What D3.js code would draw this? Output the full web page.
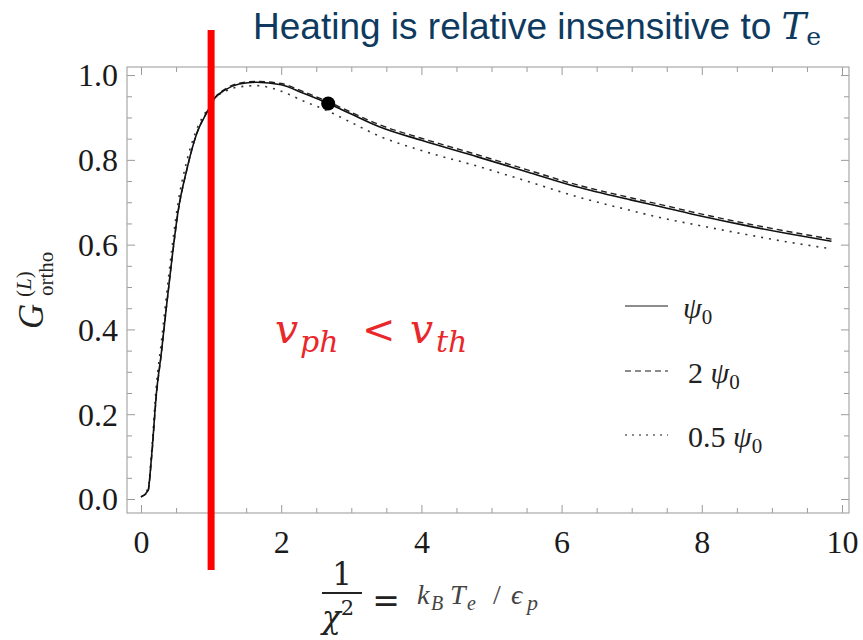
<!DOCTYPE html>
<html>
<head>
<meta charset="utf-8">
<script src="https://cdn.jsdelivr.net/npm/d3@7"></script>
<style>
  body { margin: 0; background: #fff; }
  svg { display: block; }
  .tick line { stroke: #9a9a9a; }
</style>
</head>
<body>
<svg id="vis" width="863" height="640"></svg>
<script>
// values
var xVals   = [0, 0.1, 0.15, 0.22, 0.29, 0.36, 0.44, 0.53, 0.65, 0.79, 0.95, 1.05, 1.2, 1.4, 1.65, 2.0, 2.3, 2.67, 3.0, 3.4, 4.0, 4.8, 5.5, 6.2, 7.0, 7.4, 8.0, 8.6, 9.2, 9.85];
var gPsi0   = [0.005, 0.02, 0.10, 0.25, 0.345, 0.45, 0.565, 0.68, 0.775, 0.86, 0.915, 0.945, 0.965, 0.979, 0.983, 0.977, 0.958, 0.933, 0.908, 0.878, 0.846, 0.807, 0.772, 0.737, 0.705, 0.69, 0.667, 0.646, 0.627, 0.608];
var gPsi2   = [0.005, 0.018, 0.095, 0.245, 0.342, 0.448, 0.563, 0.678, 0.774, 0.86, 0.916, 0.946, 0.967, 0.981, 0.985, 0.98, 0.962, 0.937, 0.912, 0.883, 0.851, 0.812, 0.777, 0.742, 0.71, 0.695, 0.672, 0.651, 0.632, 0.613];
var gPsiHalf = [0.005, 0.025, 0.11, 0.27, 0.37, 0.475, 0.59, 0.70, 0.795, 0.87, 0.92, 0.945, 0.962, 0.972, 0.975, 0.962, 0.94, 0.915, 0.888, 0.856, 0.822, 0.785, 0.75, 0.714, 0.68, 0.664, 0.644, 0.625, 0.607, 0.59];
var legendPrefix = ["", "2 ", "0.5 "];
var xTicks = [0, 2, 4, 6, 8, 10];
var yTicks = [0.0, 0.2, 0.4, 0.6, 0.8, 1.0];
var markX = 2.67, markY = 0.933;   // black dot
var thresholdX = 1;                // red line (v_ph = v_th)

var serif = "'Liberation Serif', 'Times New Roman', serif";
var svg = d3.select("#vis");

var x = d3.scaleLinear().domain([-0.2, 10.1]).range([127, 849]);
var y = d3.scaleLinear().domain([-0.033, 1.019]).range([513, 67]);

var minorX = d3.range(0, 10.01, 0.5).filter(v => xTicks.indexOf(v) < 0);
var minorY = d3.range(0, 1.001, 0.05).map(v => Math.round(v * 100) / 100).filter(v => yTicks.indexOf(v) < 0);

/*
 * FRAME + TICKS (mathematica style, ticks inward)
 */
function addAxis(axis, tx, ty) {
  var g = svg.append("g")
    .attr("transform", "translate(" + tx + "," + ty + ")")
    .call(axis)
    .attr("font-family", serif)
    .attr("font-size", 32);
  g.select(".domain").remove();
  g.selectAll("text").attr("fill", "#1a1a1a");
  return g;
}

var bottom = addAxis(d3.axisBottom(x).tickValues(xTicks).tickSize(-8).tickFormat(d3.format("d")), 0, 513);
bottom.selectAll("text").attr("dy", null).attr("y", 40);
addAxis(d3.axisBottom(x).tickValues(minorX).tickSize(-5).tickFormat(""), 0, 513);
addAxis(d3.axisTop(x).tickValues(xTicks).tickSize(-8).tickFormat(""), 0, 67);
addAxis(d3.axisTop(x).tickValues(minorX).tickSize(-5).tickFormat(""), 0, 67);

var left = addAxis(d3.axisLeft(y).tickValues(yTicks).tickSize(-8).tickFormat(d3.format(".1f")), 127, 0);
left.selectAll("text").attr("x", -9).attr("dy", "0.34em");
addAxis(d3.axisLeft(y).tickValues(minorY).tickSize(-5).tickFormat(""), 127, 0);
addAxis(d3.axisRight(y).tickValues(yTicks).tickSize(-8).tickFormat(""), 849, 0);
addAxis(d3.axisRight(y).tickValues(minorY).tickSize(-5).tickFormat(""), 849, 0);

svg.append("rect")
  .attr("x", 127).attr("y", 67)
  .attr("width", 849 - 127).attr("height", 513 - 67)
  .attr("fill", "none")
  .attr("stroke", "#a8a8a8")
  .attr("stroke-width", 1.2);

/*
 * CURVES
 */
var line = d3.line()
  .x(d => x(d[0]))
  .y(d => y(d[1]))
  .curve(d3.curveMonotoneX);

var series = [
  {vals: gPsiHalf, dash: "2,6", width: 1.6, color: "#333"},
  {vals: gPsi2, dash: "6,4", width: 1.4, color: "#222"},
  {vals: gPsi0, dash: null, width: 1.6, color: "#111"}
];

svg.append("g").selectAll("path")
  .data(series)
  .enter().append("path")
    .attr("d", s => line(xVals.map((v, i) => [v, s.vals[i]])))
    .attr("fill", "none")
    .attr("stroke", s => s.color)
    .attr("stroke-width", s => s.width)
    .attr("stroke-dasharray", s => s.dash);

svg.append("circle")
  .attr("cx", x(markX)).attr("cy", y(markY))
  .attr("r", 7)
  .attr("fill", "#000");

/*
 * LEGEND
 */
var legendDash = [null, "6,4", "2,5"];
var legendRowY = [306, 371, 435];
var lg = svg.append("g");
legendPrefix.forEach(function(p, i) {
  lg.append("line")
    .attr("x1", 625).attr("x2", 668)
    .attr("y1", legendRowY[i]).attr("y2", legendRowY[i])
    .attr("stroke", "#666")
    .attr("stroke-width", 1.5)
    .attr("stroke-dasharray", legendDash[i]);
  var t = lg.append("text")
    .attr("x", i === 0 ? 683 : 688)
    .attr("y", legendRowY[i] + 12)
    .attr("font-family", serif)
    .attr("font-size", 30)
    .attr("fill", "#222");
  if (p) t.append("tspan").text(p);
  t.append("tspan").attr("font-style", "italic").text("ψ");
  t.append("tspan").attr("font-size", 21).attr("dy", 6).text("0");
});

/*
 * Y LABEL
 */
var yl = svg.append("g")
  .attr("transform", "translate(43,290) rotate(-90)")
  .attr("font-family", serif)
  .attr("fill", "#222");
yl.append("text").attr("x", -39).attr("y", 0).attr("font-size", 35).attr("font-style", "italic").text("G");
var sup = yl.append("text").attr("x", -7).attr("y", -12).attr("font-size", 21);
sup.append("tspan").text("(");
sup.append("tspan").attr("font-style", "italic").text("L");
sup.append("tspan").text(")");
yl.append("text").attr("x", -6).attr("y", 10).attr("font-size", 21).text("ortho");

/*
 * X LABEL
 */
var xl = svg.append("g").attr("font-family", "'DejaVu Serif', serif").attr("fill", "#222");
xl.append("text").attr("x", 342).attr("y", 585).attr("text-anchor", "middle").attr("font-size", 31).text("1");
xl.append("line").attr("x1", 322).attr("x2", 362).attr("y1", 593).attr("y2", 593).attr("stroke", "#222").attr("stroke-width", 2);
var chi = xl.append("text").attr("x", 322).attr("y", 628).attr("font-size", 31);
chi.append("tspan").attr("font-style", "italic").text("χ");
chi.append("tspan").attr("font-size", 21).attr("dy", -13).text("2");
xl.append("text").attr("x", 386).attr("y", 612).attr("text-anchor", "middle").attr("font-size", 33).text("=");

var kt = svg.append("text")
  .attr("font-family", serif)
  .attr("font-style", "italic")
  .attr("font-size", 28)
  .attr("fill", "#444")
  .attr("y", 604);
kt.append("tspan").attr("x", 417).text("k");
kt.append("tspan").attr("x", 431).attr("dy", 6).attr("font-size", 20).text("B");
kt.append("tspan").attr("x", 450).attr("dy", -6).text("T");
kt.append("tspan").attr("x", 467).attr("dy", 6).attr("font-size", 20).text("e");
kt.append("tspan").attr("x", 493).attr("dy", -6).attr("font-style", "normal").text("/");
kt.append("tspan").attr("x", 511).text("ϵ");
kt.append("tspan").attr("x", 527).attr("dy", 6).attr("font-size", 22).text("p");

/*
 * ANNOTATIONS
 */
svg.append("line")
  .attr("x1", x(thresholdX)).attr("x2", x(thresholdX))
  .attr("y1", 30).attr("y2", 570)
  .attr("stroke", "#ff0000")
  .attr("stroke-width", 7);

var red = svg.append("text")
  .attr("font-family", "'DejaVu Serif', serif")
  .attr("font-style", "italic")
  .attr("fill", "#e8282b")
  .attr("y", 343);
red.append("tspan").attr("x", 275).attr("font-size", 41).text("v");
red.append("tspan").attr("x", 300).attr("dy", 9).attr("font-size", 30).text("ph");
red.append("tspan").attr("x", 362).attr("dy", -9).attr("font-size", 40).attr("font-style", "normal").text("<");
red.append("tspan").attr("x", 410).attr("font-size", 41).text("v");
red.append("tspan").attr("x", 436).attr("dy", 9).attr("font-size", 30).text("th");

var title = svg.append("text")
  .attr("x", 253).attr("y", 39)
  .attr("font-family", "'Liberation Sans', Arial, sans-serif")
  .attr("font-size", 37)
  .attr("fill", "#0e3a60");
title.append("tspan").text("Heating is relative insensitive to ");
title.append("tspan").attr("font-family", "'DejaVu Serif', serif").attr("font-style", "italic").text("T");
title.append("tspan").attr("font-family", "'DejaVu Serif', serif").attr("font-size", 25).attr("dy", 6).text("e");
</script>
</body>
</html>
